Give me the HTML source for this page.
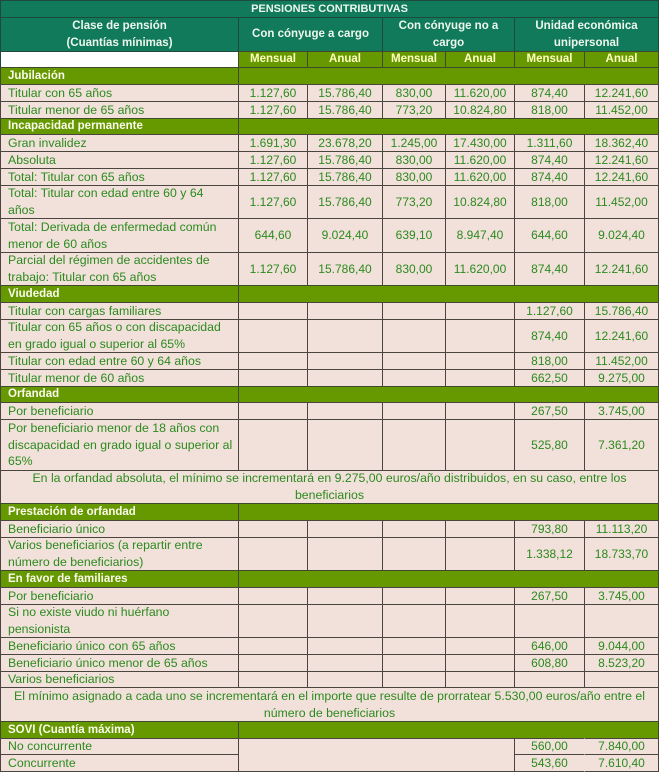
<!DOCTYPE html>
<html>
<head>
<meta charset="utf-8">
<style>
html,body{margin:0;padding:0;background:#fff;}
body{width:660px;height:776px;position:relative;overflow:hidden;font-family:"Liberation Sans",Arial,sans-serif;}
.r{position:absolute;left:0;width:660px;}
.c{position:absolute;top:0;bottom:0;box-sizing:border-box;border:1px solid #4b4540;display:flex;align-items:center;justify-content:center;text-align:center;white-space:nowrap;line-height:16.7px;font-size:12px;color:#2b8a1e;background:#f2e1da;}
.l{justify-content:flex-start;text-align:left;padding-left:7px;font-size:12.3px;}
.h{background:#107a5a;color:#eef7ee;font-weight:bold;font-size:11.5px;border-color:#1e4a3c;}
.t{font-size:11px;}
.s{background:#669900;color:#ffffc0;font-weight:bold;font-size:11.5px;border-color:#3f4a2a;}
.g{background:#669900;color:#fbfbec;font-weight:bold;font-size:11.5px;border-color:#3f4a2a;}
.w{background:#fff;border-color:#1e4a3c;}
.n{font-size:12.3px;}
.c0{left:0;width:239px;}
.c1{left:238px;width:70px;}
.c2{left:307px;width:76px;}
.c3{left:382px;width:64px;}
.c4{left:445px;width:70px;}
.c5{left:514px;width:71px;}
.c6{left:584px;width:75px;}
.c16{left:238px;width:421px;}
.c14{left:238px;width:277px;}
.c12{left:238px;width:145px;}
.c34{left:382px;width:133px;}
.c56{left:514px;width:145px;}
.call{left:0;width:659px;}
</style>
</head>
<body>

<div class="r" style="top:0;height:18px;"><div class="c call h t">PENSIONES CONTRIBUTIVAS</div></div>

<div class="r" style="top:17px;height:35px;">
<div class="c c0 h">Clase de pensión<br>(Cuantías mínimas)</div>
<div class="c c12 h">Con cónyuge a cargo</div>
<div class="c c34 h">Con cónyuge no a<br>cargo</div>
<div class="c c56 h">Unidad económica<br>unipersonal</div>
</div>

<div class="r" style="top:51px;height:17px;">
<div class="c c0 w"></div>
<div class="c c1 s">Mensual</div><div class="c c2 s">Anual</div>
<div class="c c3 s">Mensual</div><div class="c c4 s">Anual</div>
<div class="c c5 s">Mensual</div><div class="c c6 s">Anual</div>
</div>

<div class="r" style="top:67px;height:18px;"><div class="c c0 g l">Jubilación</div><div class="c c16 g"></div></div>
<div class="r" style="top:84px;height:18px;">
<div class="c c0 l">Titular con 65 años</div>
<div class="c c1">1.127,60</div><div class="c c2">15.786,40</div><div class="c c3">830,00</div><div class="c c4">11.620,00</div><div class="c c5">874,40</div><div class="c c6">12.241,60</div>
</div>
<div class="r" style="top:101px;height:18px;">
<div class="c c0 l">Titular menor de 65 años</div>
<div class="c c1">1.127,60</div><div class="c c2">15.786,40</div><div class="c c3">773,20</div><div class="c c4">10.824,80</div><div class="c c5">818,00</div><div class="c c6">11.452,00</div>
</div>

<div class="r" style="top:118px;height:17px;"><div class="c c0 g l">Incapacidad permanente</div><div class="c c16 g"></div></div>
<div class="r" style="top:134px;height:18px;">
<div class="c c0 l">Gran invalidez</div>
<div class="c c1">1.691,30</div><div class="c c2">23.678,20</div><div class="c c3">1.245,00</div><div class="c c4">17.430,00</div><div class="c c5">1.311,60</div><div class="c c6">18.362,40</div>
</div>
<div class="r" style="top:151px;height:18px;">
<div class="c c0 l">Absoluta</div>
<div class="c c1">1.127,60</div><div class="c c2">15.786,40</div><div class="c c3">830,00</div><div class="c c4">11.620,00</div><div class="c c5">874,40</div><div class="c c6">12.241,60</div>
</div>
<div class="r" style="top:168px;height:18px;">
<div class="c c0 l">Total: Titular con 65 años</div>
<div class="c c1">1.127,60</div><div class="c c2">15.786,40</div><div class="c c3">830,00</div><div class="c c4">11.620,00</div><div class="c c5">874,40</div><div class="c c6">12.241,60</div>
</div>
<div class="r" style="top:185px;height:34px;">
<div class="c c0 l">Total: Titular con edad entre 60 y 64<br>años</div>
<div class="c c1">1.127,60</div><div class="c c2">15.786,40</div><div class="c c3">773,20</div><div class="c c4">10.824,80</div><div class="c c5">818,00</div><div class="c c6">11.452,00</div>
</div>
<div class="r" style="top:218px;height:35px;">
<div class="c c0 l">Total: Derivada de enfermedad común<br>menor de 60 años</div>
<div class="c c1">644,60</div><div class="c c2">9.024,40</div><div class="c c3">639,10</div><div class="c c4">8.947,40</div><div class="c c5">644,60</div><div class="c c6">9.024,40</div>
</div>
<div class="r" style="top:252px;height:34px;">
<div class="c c0 l">Parcial del régimen de accidentes de<br>trabajo: Titular con 65 años</div>
<div class="c c1">1.127,60</div><div class="c c2">15.786,40</div><div class="c c3">830,00</div><div class="c c4">11.620,00</div><div class="c c5">874,40</div><div class="c c6">12.241,60</div>
</div>

<div class="r" style="top:285px;height:18px;"><div class="c c0 g l">Viudedad</div><div class="c c16 g"></div></div>
<div class="r" style="top:302px;height:18px;">
<div class="c c0 l">Titular con cargas familiares</div>
<div class="c c1"></div><div class="c c2"></div><div class="c c3"></div><div class="c c4"></div><div class="c c5">1.127,60</div><div class="c c6">15.786,40</div>
</div>
<div class="r" style="top:319px;height:34px;">
<div class="c c0 l">Titular con 65 años o con discapacidad<br>en grado igual o superior al 65%</div>
<div class="c c1"></div><div class="c c2"></div><div class="c c3"></div><div class="c c4"></div><div class="c c5">874,40</div><div class="c c6">12.241,60</div>
</div>
<div class="r" style="top:352px;height:18px;">
<div class="c c0 l">Titular con edad entre 60 y 64 años</div>
<div class="c c1"></div><div class="c c2"></div><div class="c c3"></div><div class="c c4"></div><div class="c c5">818,00</div><div class="c c6">11.452,00</div>
</div>
<div class="r" style="top:369px;height:18px;">
<div class="c c0 l">Titular menor de 60 años</div>
<div class="c c1"></div><div class="c c2"></div><div class="c c3"></div><div class="c c4"></div><div class="c c5">662,50</div><div class="c c6">9.275,00</div>
</div>

<div class="r" style="top:386px;height:17px;"><div class="c c0 g l">Orfandad</div><div class="c c16 g"></div></div>
<div class="r" style="top:402px;height:18px;">
<div class="c c0 l">Por beneficiario</div>
<div class="c c1"></div><div class="c c2"></div><div class="c c3"></div><div class="c c4"></div><div class="c c5">267,50</div><div class="c c6">3.745,00</div>
</div>
<div class="r" style="top:419px;height:52px;">
<div class="c c0 l">Por beneficiario menor de 18 años con<br>discapacidad en grado igual o superior al<br>65%</div>
<div class="c c1"></div><div class="c c2"></div><div class="c c3"></div><div class="c c4"></div><div class="c c5">525,80</div><div class="c c6">7.361,20</div>
</div>
<div class="r" style="top:470px;height:34px;">
<div class="c call n">En la orfandad absoluta, el mínimo se incrementará en 9.275,00 euros/año distribuidos, en su caso, entre los<br>beneficiarios</div>
</div>

<div class="r" style="top:503px;height:18px;"><div class="c c0 g l">Prestación de orfandad</div><div class="c c16 g"></div></div>
<div class="r" style="top:520px;height:18px;">
<div class="c c0 l">Beneficiario único</div>
<div class="c c1"></div><div class="c c2"></div><div class="c c3"></div><div class="c c4"></div><div class="c c5">793,80</div><div class="c c6">11.113,20</div>
</div>
<div class="r" style="top:537px;height:34px;">
<div class="c c0 l">Varios beneficiarios (a repartir entre<br>número de beneficiarios)</div>
<div class="c c1"></div><div class="c c2"></div><div class="c c3"></div><div class="c c4"></div><div class="c c5">1.338,12</div><div class="c c6">18.733,70</div>
</div>

<div class="r" style="top:570px;height:18px;"><div class="c c0 g l">En favor de familiares</div><div class="c c16 g"></div></div>
<div class="r" style="top:587px;height:18px;">
<div class="c c0 l">Por beneficiario</div>
<div class="c c1"></div><div class="c c2"></div><div class="c c3"></div><div class="c c4"></div><div class="c c5">267,50</div><div class="c c6">3.745,00</div>
</div>
<div class="r" style="top:604px;height:34px;">
<div class="c c0 l">Si no existe viudo ni huérfano<br>pensionista</div>
<div class="c c1"></div><div class="c c2"></div><div class="c c3"></div><div class="c c4"></div><div class="c c5"></div><div class="c c6"></div>
</div>
<div class="r" style="top:637px;height:18px;">
<div class="c c0 l">Beneficiario único con 65 años</div>
<div class="c c1"></div><div class="c c2"></div><div class="c c3"></div><div class="c c4"></div><div class="c c5">646,00</div><div class="c c6">9.044,00</div>
</div>
<div class="r" style="top:654px;height:18px;">
<div class="c c0 l">Beneficiario único menor de 65 años</div>
<div class="c c1"></div><div class="c c2"></div><div class="c c3"></div><div class="c c4"></div><div class="c c5">608,80</div><div class="c c6">8.523,20</div>
</div>
<div class="r" style="top:671px;height:17px;">
<div class="c c0 l">Varios beneficiarios</div>
<div class="c c1"></div><div class="c c2"></div><div class="c c3"></div><div class="c c4"></div><div class="c c5"></div><div class="c c6"></div>
</div>
<div class="r" style="top:687px;height:35px;">
<div class="c call n">El mínimo asignado a cada uno se incrementará en el importe que resulte de prorratear 5.530,00 euros/año entre el<br>número de beneficiarios</div>
</div>

<div class="r" style="top:721px;height:18px;"><div class="c c0 g l">SOVI (Cuantía máxima)</div><div class="c c16 g"></div></div>
<div class="r" style="top:738px;height:34px;"><div class="c c14"></div></div>
<div class="r" style="top:738px;height:17px;">
<div class="c c0 l">No concurrente</div>
<div class="c c5" style="border-right-color:transparent;">560,00</div><div class="c c6" style="border-left-color:transparent;">7.840,00</div>
</div>
<div class="r" style="top:754px;height:18px;">
<div class="c c0 l">Concurrente</div>
<div class="c c5" style="border-right-color:transparent;">543,60</div><div class="c c6" style="border-left-color:transparent;">7.610,40</div>
</div>

</body>
</html>
